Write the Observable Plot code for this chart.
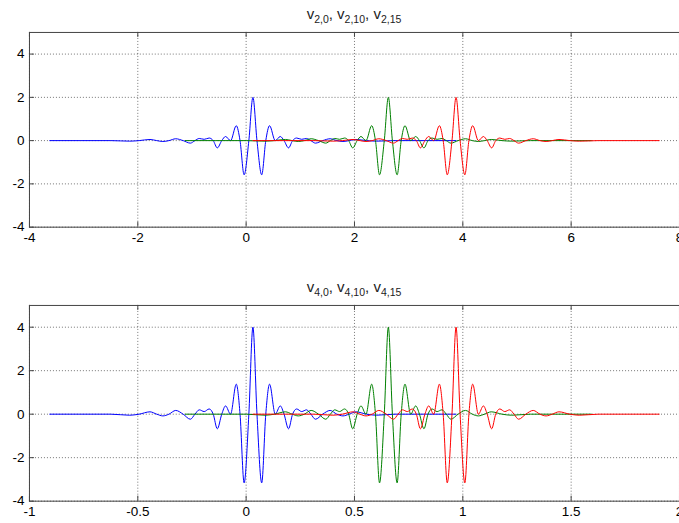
<!DOCTYPE html>
<html>
<head>
<meta charset="utf-8">
<script src="https://cdn.jsdelivr.net/npm/d3@7"></script>
<script src="https://cdn.jsdelivr.net/npm/@observablehq/plot@0.6"></script>
<style>
  html, body { margin: 0; padding: 0; background: #fff; overflow: hidden; }
  #wrap { position: relative; width: 679px; height: 523px; overflow: hidden; background: #fff; }
  .title { position: absolute; left: 354px; transform: translateX(-50%); white-space: nowrap; z-index: 5;
           font-family: "Liberation Sans", Arial, sans-serif; font-size: 15px; line-height: 15px; color: #222; }
  .title .s { font-size: 10.5px; position: relative; top: 4px; }
  .panel { position: absolute; left: 0; z-index: 1; }
</style>
</head>
<body>
<div id="wrap">
  <div id="p1" class="panel" style="top:0px"></div>
  <div id="p2" class="panel" style="top:272px"></div>
  <div class="title" style="top:6px">v<span class="s">2,0</span>, v<span class="s">2,10</span>, v<span class="s">2,15</span></div>
  <div class="title" style="top:279px">v<span class="s">4,0</span>, v<span class="s">4,10</span>, v<span class="s">4,15</span></div>
</div>
<script>
// ---- data ----
const xTicksTop = [-4, -2, 0, 2, 4, 6, 8];
const xTicksBottom = [-1, -0.5, 0, 0.5, 1, 1.5, 2];
const yTicks = [-4, -2, 0, 2, 4];
const yDomain = [-4, 5];

const seriesNames = ["k=0", "k=10", "k=15"];
const seriesColors = ["#0000ff", "#008000", "#ff0000"];

// wavelet centres (x of main peak) and scale/amplitude of each panel
const topCenters = [0.125, 2.625, 3.875];
const topScale = 4, topAmp = 2;
const bottomCenters = [0.03125, 0.65625, 0.96875];
const bottomScale = 16, bottomAmp = 4;

// profile of one wavelet (offset from centre in mother units, value at unit amplitude)
const shapeT = [-15, -10.5, -9.1, -8.4, -7.6, -7.1, -6.65, -6.2, -5.7, -5.15, -4.62, -4.28, -3.96, -3.6, -3.23, -2.93, -2.63, -2.3, -2.02, -1.65, -1.23, -0.95, -0.65, -0.3,
                0,
                0.3, 0.65, 0.95, 1.23, 1.65, 2.02, 2.3, 2.63, 2.93, 3.23, 3.6, 3.96, 4.28, 4.62, 5.15, 5.7, 6.2, 6.65, 7.1, 7.6, 8.4, 9.1, 10.5, 15];
const shapeV = [0, 0, -0.012, 0, 0.027, 0, -0.02, 0, 0.043, 0, -0.058, 0, 0.05, 0.03, 0.06, 0, -0.168, 0, 0.095, 0.0, 0.345, 0, -0.79, 0,
                1,
                0, -0.79, 0, 0.345, 0.0, 0.095, 0, -0.168, 0, 0.06, 0.03, 0.05, 0, -0.058, 0, 0.043, 0, -0.02, 0, 0.027, 0, -0.012, 0, 0];

function seriesRows(centers, scale, amp) {
  return centers.map((c, i) => shapeT.map((t, j) => ({series: seriesNames[i], x: c + t / scale, y: amp * shapeV[j]})));
}

const fontFamily = '"Liberation Sans", Arial, sans-serif';

function chart({xDomain, xTicks, centers, scale, amp, height, mt, mb}) {
  const W = 680, ml = 29, mr = 0;
  const ih = height - mt - mb, iw = W - ml - mr;
  const series = seriesRows(centers, scale, amp);
  const axisColor = "#444";
  const gridStyle = {stroke: "#000", strokeOpacity: 0.55, strokeDasharray: "1,2"};
  return Plot.plot({
    width: W, height, marginLeft: ml, marginRight: mr, marginTop: mt, marginBottom: mb,
    style: {fontFamily, fontSize: "13px", color: "#000", background: "transparent", overflow: "visible"},
    x: {domain: xDomain, axis: null},
    y: {domain: yDomain, axis: null},
    marks: [
      Plot.gridX(xTicks, {x: d => d, ...gridStyle}),
      Plot.gridY(yTicks, {y: d => d, ...gridStyle}),
      ...series.map((rows, i) => Plot.line(rows, {x: "x", y: "y", stroke: seriesColors[i], strokeWidth: 1, curve: "monotone-x"})),
      Plot.frame({stroke: axisColor, strokeWidth: 1}),
      Plot.tickX(xTicks, {x: d => d, insetTop: ih - 5, stroke: axisColor}),
      Plot.tickX(xTicks, {x: d => d, insetBottom: ih - 5, stroke: axisColor}),
      Plot.tickY(yTicks, {y: d => d, insetRight: iw - 5, stroke: axisColor}),
      Plot.axisX(xTicks, {tickSize: 0, tickPadding: 5, tickFormat: d => String(d), label: null, fill: "#000", fontSize: 13.5}),
      Plot.axisY(yTicks, {tickSize: 0, tickPadding: 5, tickFormat: d => String(d), label: null, fill: "#000", fontSize: 13.5})
    ]
  });
}

document.getElementById("p1").appendChild(chart({
  xDomain: [-4, 8], xTicks: xTicksTop, centers: topCenters, scale: topScale, amp: topAmp,
  height: 250, mt: 32, mb: 23
}));
document.getElementById("p2").appendChild(chart({
  xDomain: [-1, 2], xTicks: xTicksBottom, centers: bottomCenters, scale: bottomScale, amp: bottomAmp,
  height: 251, mt: 33, mb: 22
}));
</script>
</body>
</html>
